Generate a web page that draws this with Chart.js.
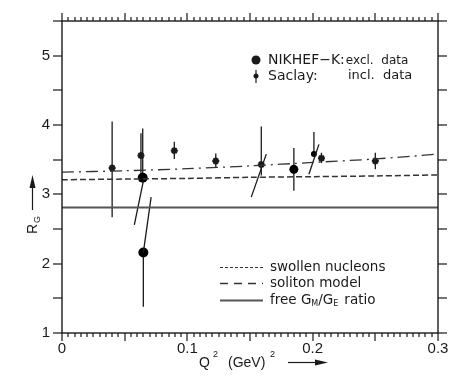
<!DOCTYPE html>
<html>
<head>
<meta charset="utf-8">
<script src="https://cdn.jsdelivr.net/npm/chart.js@4.4.0/dist/chart.umd.min.js"></script>
<style>
  html, body { margin: 0; padding: 0; background: #fff; }
  #wrap { width: 471px; height: 382px; }
</style>
</head>
<body>
<div id="wrap"><canvas id="canvas-1" width="471" height="382"></canvas></div>
<script>
// tick labels
var xLabels = [0, 0.1, 0.2, 0.3];
var yLabels = [1, 2, 3, 4, 5];

// Saclay inclusive data (star markers)
var saclayX  = [0.040, 0.063, 0.0896, 0.1227, 0.159, 0.207, 0.250];
var saclayY  = [3.38, 3.56, 3.63, 3.48, 3.43, 3.52, 3.48];
var saclayLo = [2.67, 3.25, 3.51, 3.38, 3.27, 3.45, 3.36];
var saclayHi = [4.05, 3.88, 3.76, 3.59, 3.98, 3.60, 3.60];

// NIKHEF-K exclusive data (filled circles)
var nikhefX  = [0.0644, 0.0649, 0.185, 0.201];
var nikhefY  = [3.24, 2.16, 3.36, 3.58];
var nikhefLo = [3.24, 1.38, 3.05, 3.58];
var nikhefHi = [3.95, 2.16, 3.67, 3.90];

// slanted bands through the NIKHEF points
var slantFromX = [0.0649, 0.0711, 0.163, 0.205];
var slantFromY = [3.19, 2.96, 3.58, 3.72];
var slantToX   = [0.0577, 0.0649, 0.151, 0.197];
var slantToY   = [2.56, 2.16, 2.96, 3.29];

// model curves
var curveX   = [0, 0.05, 0.1, 0.15, 0.2, 0.25, 0.3];
var swollenY = [3.21, 3.22, 3.23, 3.245, 3.255, 3.265, 3.28];
var solitonY = [3.32, 3.34, 3.37, 3.41, 3.46, 3.51, 3.58];
var freeY    = [2.81, 2.81, 2.81, 2.81, 2.81, 2.81, 2.81];

var ink = '#1a1a1a';
var fam = '"Liberation Sans", Arial, sans-serif';
var legFam = '"DejaVu Sans", sans-serif';

function pts(xs, ys) {
  return xs.map(function (x, i) { return { x: x, y: ys[i] }; });
}

var datasets = [
  { label: 'free', data: pts(curveX, freeY), showLine: true, borderColor: '#555', borderWidth: 2.2, pointRadius: 0 },
  { label: 'swollen', data: pts(curveX, swollenY), showLine: true, borderColor: '#333', borderWidth: 1.5, borderDash: [6, 3], pointRadius: 0, tension: 0.3 },
  { label: 'soliton', data: pts(curveX, solitonY), showLine: true, borderColor: '#333', borderWidth: 1.3, borderDash: [12, 5, 2, 5], pointRadius: 0, tension: 0.3 }
];
slantFromX.forEach(function (x, i) {
  datasets.push({ label: 'slant' + i, data: [{ x: x, y: slantFromY[i] }, { x: slantToX[i], y: slantToY[i] }],
    showLine: true, borderColor: ink, borderWidth: 1.3, pointRadius: 0 });
});
datasets.push({ label: 'Saclay', data: pts(saclayX, saclayY), pointStyle: 'star', pointRadius: 3.5,
  borderColor: ink, backgroundColor: ink, borderWidth: 2 });
datasets.push({ label: 'NIKHEF', data: pts(nikhefX, nikhefY), pointStyle: 'circle', pointRadius: [5, 5, 4.5, 3],
  borderColor: '#000', backgroundColor: '#000', borderWidth: 0 });

function arrowHead(ctx, x, y, dx, dy, len, half) {
  ctx.beginPath();
  ctx.moveTo(x, y);
  ctx.lineTo(x - dx * len - dy * half, y - dy * len + dx * half);
  ctx.lineTo(x - dx * len + dy * half, y - dy * len - dx * half);
  ctx.closePath();
  ctx.fill();
}

var decor = {
  id: 'decor',
  beforeDatasetsDraw: function (chart) {
    var ctx = chart.ctx, xs = chart.scales.x, ys = chart.scales.y;
    ctx.save();
    ctx.strokeStyle = ink;
    ctx.lineWidth = 1.3;
    function bar(x, lo, hi) {
      var px = xs.getPixelForValue(x);
      ctx.beginPath();
      ctx.moveTo(px, ys.getPixelForValue(lo));
      ctx.lineTo(px, ys.getPixelForValue(hi));
      ctx.stroke();
    }
    saclayX.forEach(function (x, i) { bar(x, saclayLo[i], saclayHi[i]); });
    nikhefX.forEach(function (x, i) { bar(x, nikhefLo[i], nikhefHi[i]); });
    ctx.restore();
  },
  afterDraw: function (chart) {
    var ctx = chart.ctx, a = chart.chartArea, xs = chart.scales.x, ys = chart.scales.y;
    ctx.save();
    ctx.setLineDash([]);
    ctx.strokeStyle = ink;
    ctx.fillStyle = ink;
    ctx.lineWidth = 1.4;
    ctx.strokeRect(a.left, a.top, a.right - a.left, a.bottom - a.top);

    // x ticks, bottom and top, pointing outward
    for (var k = 0; k <= 60; k++) {
      var tx = Math.round(xs.getPixelForValue(k * 0.005));
      var tl = (k % 10 === 0) ? 8 : 4;
      ctx.fillRect(tx - 0.6, a.bottom, 1.2, tl);
      ctx.fillRect(tx - 0.6, a.top - tl, 1.2, tl);
    }
    // y ticks every 0.5, left and right
    for (var m = 0; m <= 9; m++) {
      var ty = Math.round(ys.getPixelForValue(1 + m * 0.5));
      ctx.fillRect(a.left - 9, ty - 0.6, 9, 1.2);
      ctx.fillRect(a.right, ty - 0.6, 9, 1.2);
    }

    // x title
    ctx.textBaseline = 'alphabetic';
    ctx.textAlign = 'left';
    ctx.font = '14px ' + fam;
    ctx.fillText('Q', 199, 367);
    ctx.font = '9px ' + fam;
    ctx.fillText('2', 213, 357);
    ctx.font = '14px ' + fam;
    ctx.fillText('(GeV)', 228, 367);
    ctx.font = '9px ' + fam;
    ctx.fillText('2', 270, 357);
    ctx.lineWidth = 1.2;
    ctx.beginPath(); ctx.moveTo(288, 362.5); ctx.lineTo(318, 362.5); ctx.stroke();
    arrowHead(ctx, 328, 362.5, 1, 0, 13, 3);

    // y title, rotated
    ctx.save();
    ctx.translate(37, 234);
    ctx.rotate(-Math.PI / 2);
    ctx.font = '14px ' + fam;
    ctx.fillText('R', 0, 0);
    ctx.font = '9px ' + fam;
    ctx.fillText('G', 11, 3);
    ctx.restore();
    ctx.beginPath(); ctx.moveTo(32.5, 210); ctx.lineTo(32.5, 186); ctx.stroke();
    arrowHead(ctx, 32.5, 175, 0, -1, 13, 3);

    // legend: data
    ctx.beginPath(); ctx.arc(256, 60, 4.5, 0, Math.PI * 2); ctx.fill();
    ctx.textBaseline = 'middle';
    ctx.font = '14px ' + legFam;
    ctx.fillText('NIKHEF\u2212K:', 268, 60);
    var w = ctx.measureText('NIKHEF\u2212K:').width;
    ctx.font = '12px ' + legFam;
    ctx.fillText('excl.  data', 268 + w + 1, 61);
    ctx.lineWidth = 1.2;
    ctx.beginPath(); ctx.moveTo(256, 70); ctx.lineTo(256, 83); ctx.stroke();
    ctx.beginPath(); ctx.arc(256, 76, 2.5, 0, Math.PI * 2); ctx.fill();
    ctx.font = '14px ' + legFam;
    ctx.fillText('Saclay:', 268, 76);
    ctx.font = '13px ' + legFam;
    ctx.fillText('incl.  data', 348, 76);

    // legend: curves
    var rows = [
      { y: 267, dash: [3, 2], w: 1, color: '#333', text: 'swollen nucleons' },
      { y: 283, dash: [8, 6], w: 1.3, color: '#333', text: 'soliton model' },
      { y: 300, dash: [], w: 2, color: '#555', text: 'free G' }
    ];
    rows.forEach(function (r) {
      ctx.strokeStyle = r.color;
      ctx.lineWidth = r.w;
      ctx.setLineDash(r.dash);
      ctx.beginPath(); ctx.moveTo(220, r.y + 0.5); ctx.lineTo(263, r.y + 0.5); ctx.stroke();
      ctx.setLineDash([]);
      ctx.font = '13.5px ' + legFam;
      ctx.fillText(r.text, 270, r.y);
    });
    var x0 = 270 + ctx.measureText('free G').width;
    ctx.font = '8px ' + legFam;
    ctx.fillText('M', x0, 304);
    x0 += ctx.measureText('M').width;
    ctx.font = '13.5px ' + legFam;
    ctx.fillText('/G', x0, 300);
    x0 += ctx.measureText('/G').width;
    ctx.font = '8px ' + legFam;
    ctx.fillText('E', x0, 304);
    x0 += ctx.measureText('E').width + 6;
    ctx.font = '13.5px ' + legFam;
    ctx.fillText('ratio', x0, 300);
    ctx.restore();
  }
};

var ctx = document.getElementById('canvas-1');
var chart = new Chart(ctx, {
  type: 'scatter',
  data: { datasets: datasets },
  options: {
    responsive: false,
    animation: false,
    devicePixelRatio: 1,
    layout: { padding: { top: 19, right: 33, left: 0, bottom: 0 } },
    plugins: { legend: { display: false }, tooltip: { enabled: false } },
    scales: {
      x: {
        type: 'linear', min: 0, max: 0.3,
        afterBuildTicks: function (s) { s.ticks = xLabels.map(function (v) { return { value: v }; }); },
        afterFit: function (s) { s.height = 49; },
        grid: { display: false, drawTicks: false },
        border: { display: false },
        ticks: { color: ink, padding: 7, maxRotation: 0, font: { size: 15, family: fam },
          callback: function (v) { return String(v); } }
      },
      y: {
        type: 'linear', min: 1, max: 5.5,
        afterBuildTicks: function (s) { s.ticks = yLabels.map(function (v) { return { value: v }; }); },
        afterFit: function (s) { s.width = 62; },
        grid: { display: false, drawTicks: false },
        border: { display: false },
        ticks: { color: ink, padding: 12, font: { size: 15, family: fam } }
      }
    }
  },
  plugins: [decor]
});
</script>
</body>
</html>
